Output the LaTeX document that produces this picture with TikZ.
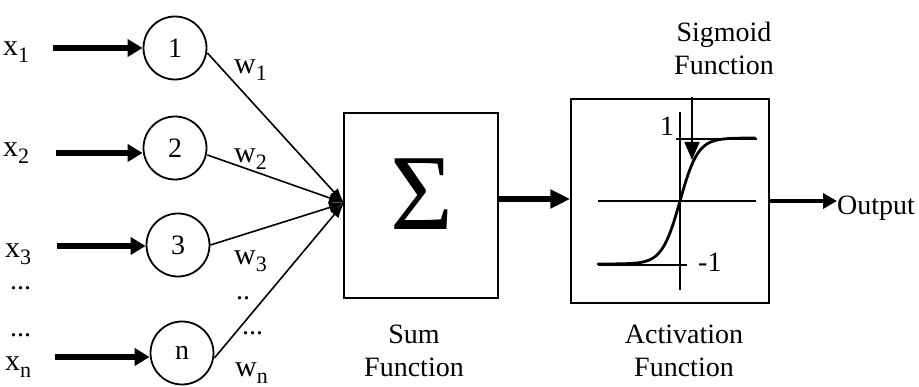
\documentclass[tikz,border=0pt]{standalone}
\usepackage{fontspec}
\setmainfont{Liberation Serif}
\usetikzlibrary{arrows.meta}
\newcommand\sbs[1]{\raisebox{-7pt}{\fontsize{22}{22}\selectfont #1}}
\begin{document}
\begin{tikzpicture}[x=1pt,y=-1pt,
  txt/.style={font=\fontsize{28}{33}\selectfont, inner sep=0pt},
  vlbl/.style={font=\fontsize{30}{33}\selectfont, inner sep=0pt},
  neuron/.style={draw, circle, line width=1.8pt, minimum size=63pt, inner sep=0pt, font=\fontsize{28}{33}\selectfont},
  boxst/.style={draw, line width=1.5pt, inner sep=0pt},
  inarrow/.style={line width=6pt, -{Triangle[length=15pt,width=17pt]}},
  wline/.style={line width=1.6pt, -{Latex[length=15pt,width=11pt]}},
  thin/.style={line width=1.4pt}]
\path[use as bounding box] (0,0) rectangle (919,387);

% neurons
\node[neuron] (c1) at (175,48) {1};
\node[neuron] (c2) at (175,148) {2};
\node[neuron] (c3) at (178,245) {3};
\node[neuron] (cn) at (182,353) {n};

% input labels
\node[vlbl, anchor=base west] (x1) at (3,56) {x\sbs{1}};
\node[vlbl, anchor=base west] (x2) at (3,157) {x\sbs{2}};
\node[vlbl, anchor=base west] (x3) at (5,258) {x\sbs{3}};
\node[txt, anchor=base west] (d1) at (10,290) {...};
\node[txt, anchor=base west] (d2) at (10,337) {...};
\node[vlbl, anchor=base west] (xn) at (5,371) {x\sbs{n}};

\coordinate (i1) at (53,48);
\coordinate (i2) at (56,153);
\coordinate (i3) at (57,246);
\coordinate (in) at (55,357);
\draw[inarrow] (i1) -- (c1.west |- i1);
\draw[inarrow] (i2) -- (c2.west |- i2);
\draw[inarrow] (i3) -- (c3.west |- i3);
\draw[inarrow] (in) -- (cn.west |- in);

% sum box
\node[boxst, minimum width=154pt, minimum height=185pt] (sum) at (421,205.5) {};
\node[inner sep=0pt, font=\fontsize{108}{108}\selectfont] (sigma) at (422,194) {Σ};
\coordinate (conv) at (344,203);

\draw[wline] ([yshift=-5pt]c1.east) -- (conv);
\draw[wline] ([yshift=-7pt]c2.east) -- (conv);
\draw[wline] (c3.east) -- (conv);
\draw[wline] ([yshift=-5pt]cn.east) -- (conv);

% weights
\node[vlbl, anchor=base west] (w1) at (234,74) {w\sbs{1}};
\node[vlbl, anchor=base west] (w2) at (234,163) {w\sbs{2}};
\node[vlbl, anchor=base west] (w3) at (234,265) {w\sbs{3}};
\node[txt, anchor=base west] (wd1) at (236,300) {..};
\node[txt, anchor=base west] (wd2) at (242,335) {...};
\node[vlbl, anchor=base west] (wn) at (235,377) {w\sbs{n}};

\node[txt, align=center, anchor=base] (sumlbl) at (414,377) {Sum\\Function};

% activation box
\node[boxst, minimum width=198pt, minimum height=204pt] (act) at (670,201) {};
\draw[line width=6pt, -{Triangle[length=20pt,width=18pt]}] (sum.east |- 0,199) -- (act.west |- 0,199);

\coordinate (hax1) at (598,201);
\coordinate (hax2) at (756,201);
\coordinate (vax1) at (680,112);
\coordinate (vax2) at (680,290);
\coordinate (top1) at (676,139);
\coordinate (top2) at (757,139);
\coordinate (bot1) at (598,265);
\coordinate (bot2) at (687,265);
\draw[thin] (hax1) -- (hax2);
\draw[thin] (vax1) -- (vax2);
\draw[thin] (top1) -- (top2);
\draw[thin] (bot1) -- (bot2);
\draw[line width=2.8pt, line cap=round] plot[domain=598:755, samples=100, smooth] (\x, {201-63*tanh((\x-680)/18)});

\node[txt, anchor=base] (one) at (667,136) {1};
\node[txt, anchor=base west] (mone) at (698,272) {-1};

\node[txt, align=center, anchor=base] (siglbl) at (724,75) {Sigmoid\\Function};
\coordinate (sigtop) at (692,97);
\coordinate (sigtip) at (692,160);
\draw[line width=1.6pt, -{Triangle[length=18pt,width=15pt]}] (sigtop) -- (sigtip);

\node[txt, align=center, anchor=base] (actlbl) at (684,377) {Activation\\Function};

% output
\node[txt, anchor=base west] (out) at (837,215) {Output};
\draw[line width=4pt, -{Triangle[length=14pt,width=15pt]}] (act.east |- 0,201) -- (out.west |- 0,201);
\end{tikzpicture}
\end{document}
